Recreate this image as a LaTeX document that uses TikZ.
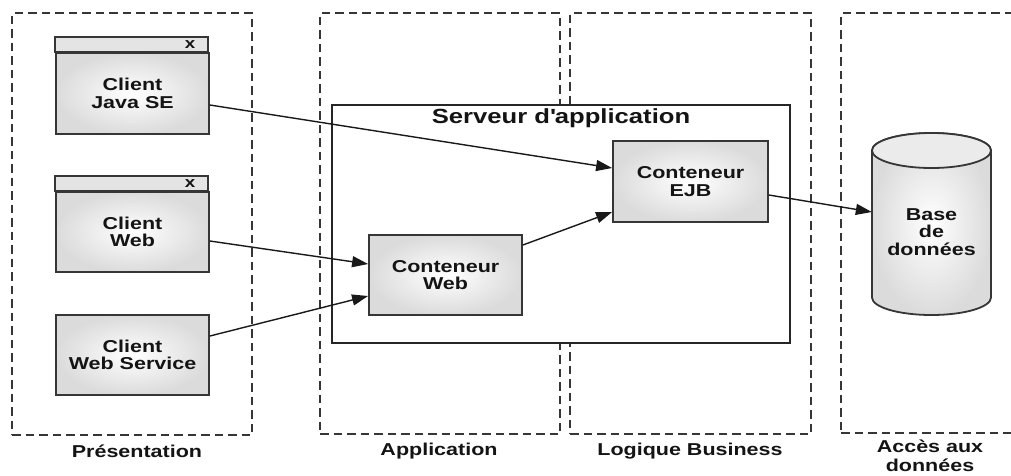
\documentclass[tikz,border=0pt]{standalone}
\usepackage{fontspec}
\setmainfont{Liberation Sans}[FakeStretch=1.25]
\usetikzlibrary{arrows.meta}
\definecolor{edge}{HTML}{363636}
\definecolor{barfill}{HTML}{E4E4E4}
\begin{document}
\begin{tikzpicture}[x=1pt,y=-1pt,
  txt/.style={font=\bfseries\fontsize{17.2}{17.5}\selectfont, align=center, text=black!92},
  layer/.style={draw=edge, line width=1.8pt, dash pattern=on 8.5pt off 5pt, inner sep=0pt},
  cbox/.style={draw=edge, line width=1.8pt, shading=radial, inner color=white,
    outer color=black!14, txt, inner sep=0pt},
  titlebar/.style={draw=edge, line width=1.8pt, fill=barfill},
  xmark/.style={font=\bfseries\fontsize{15}{15}\selectfont, text=black!92},
  arr/.style={draw=black!90, line width=1.4pt, -{Triangle[length=16pt,width=11pt]}},
]
\useasboundingbox (0,0) rectangle (1011,475);

% tiers
\node[layer, minimum width=240pt, minimum height=422pt] (pres) at (132,224) {};
\node[layer, minimum width=240pt, minimum height=421pt] (app)  at (440,223.5) {};
\node[layer, minimum width=241pt, minimum height=421pt] (biz)  at (690.5,223.5) {};
\node[layer, minimum width=200pt, minimum height=420pt] (data) at (941,223) {};

\node[txt] (lpres) at (137,451) {Présentation};
\node[txt] (lapp)  at (439,451) {Application};
\node[txt] (lbiz)  at (690,451) {Logique Business};
\node[txt] (ldata) at (930,456) {Accès aux\\[1pt]données};

% application server
\node[draw=black!85, line width=1.5pt, fill=white, minimum width=458pt, minimum height=238pt,
  inner sep=0pt] (srv) at (561,224) {};
\node[font=\bfseries\fontsize{20.5}{22}\selectfont, text=black!92] (srvtitle) at (561,118)
  {Serveur d\textquotesingle application};

% clients
\node[cbox, minimum width=153pt, minimum height=81pt] (java) at (132.5,93.5) {Client\\Java SE};
\draw[titlebar] (java.north west) rectangle ++(153,-15);
\node[xmark] (javax) at (190,45) {x};

\node[cbox, minimum width=153pt, minimum height=80pt] (cweb) at (132.5,232) {Client\\Web};
\draw[titlebar] (cweb.north west) rectangle ++(153,-15);
\node[xmark] (cwebx) at (190,184) {x};

\node[cbox, minimum width=153pt, minimum height=80pt] (ws) at (132.5,355) {Client\\Web Service};

% containers
\node[cbox, minimum width=153pt, minimum height=80pt] (web) at (445.5,275) {Conteneur\\Web};
\node[cbox, minimum width=155pt, minimum height=81pt] (ejb) at (690.5,181.5) {Conteneur\\EJB};

% database
\path[draw=edge, line width=1.8pt, shading=radial, inner color=white, outer color=black!14]
  (872,150.5) -- (872,297.5) arc[start angle=180, end angle=0, x radius=59.5, y radius=17.5]
  -- (991,150.5) arc[start angle=0, end angle=-180, x radius=59.5, y radius=17.5] -- cycle;
\draw[draw=edge, line width=1.8pt, fill=black!8] (931.5,150.5) ellipse[x radius=59.5, y radius=17.5];
\node[txt, minimum width=119pt, minimum height=182pt, inner sep=0pt] (db) at (931.5,232)
  {Base\\de\\données};

% connections
\draw[arr] ([yshift=-11.5pt]java.east) -- ([yshift=13.5pt]ejb.west);
\draw[arr] ([yshift=-9pt]cweb.east) -- ([yshift=11pt]web.west);
\draw[arr] ([yshift=19pt]ws.east) -- ([yshift=-21pt]web.west);
\draw[arr] ([yshift=30pt]web.east) -- ([yshift=-30.5pt]ejb.west);
\draw[arr] ([yshift=-13.5pt]ejb.east) -- ([yshift=20pt]db.west);
\end{tikzpicture}
\end{document}
